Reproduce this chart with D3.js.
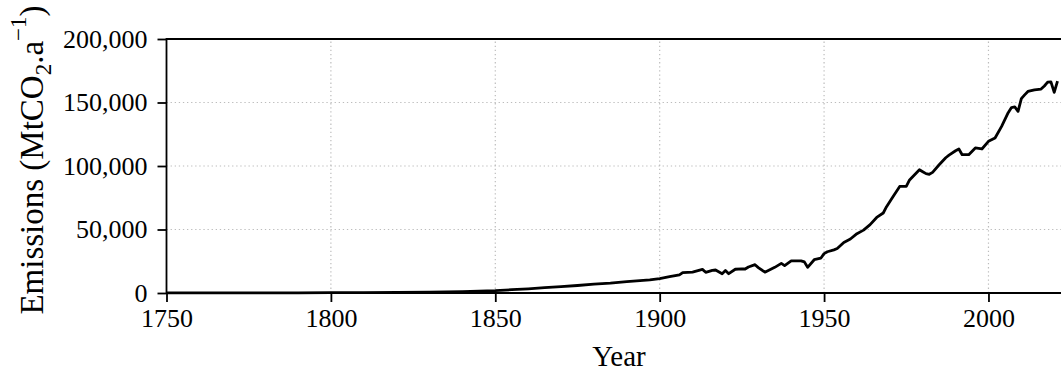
<!DOCTYPE html>
<html>
<head>
<meta charset="utf-8">
<script src="https://cdn.jsdelivr.net/npm/d3@7"></script>
<style>
  body { margin: 0; background: #fff; }
  svg { display: block; }
</style>
</head>
<body>
<div id="chart"></div>
<script>
// data (MtCO2 per year)
const years = [
  1750, 1760, 1770, 1780, 1790, 1800, 1810, 1820, 1830, 1840,
  1850, 1855, 1860, 1865, 1870, 1875, 1880, 1885, 1890, 1894,
  1897, 1900, 1903, 1906, 1907, 1910, 1913, 1914, 1916, 1917,
  1919, 1920, 1921, 1923, 1925, 1926, 1927, 1929, 1930, 1932,
  1935, 1937, 1938, 1940, 1943, 1944, 1945, 1947, 1949, 1950,
  1951, 1953, 1954, 1956, 1958, 1960, 1962, 1964, 1966, 1968,
  1969, 1971, 1973, 1974, 1975, 1976, 1979, 1980, 1981, 1982,
  1983, 1985, 1987, 1988, 1990, 1991, 1992, 1994, 1996, 1998,
  2000, 2002, 2004, 2006, 2007, 2008, 2009, 2010, 2011, 2012,
  2014, 2016, 2017, 2018, 2019, 2020, 2021
];
const emissions = [
  50, 60, 80, 110, 150, 220, 300, 420, 650, 1000,
  1800, 2600, 3300, 4200, 5000, 5900, 7000, 7800, 8900, 9700,
  10300, 11400, 12800, 14200, 16000, 16500, 18600, 16300, 17800, 18100,
  15200, 17700, 15200, 18700, 19000, 18900, 20500, 22300, 20000, 16400,
  20200, 23300, 21600, 25300, 25300, 24500, 20200, 26200, 27400, 31000,
  32500, 34000, 35000, 39800, 42500, 46700, 49500, 53800, 59500, 63000,
  68000, 76000, 83900, 84000, 84000, 89000, 97000, 95500, 94000, 93500,
  95000, 101000, 106500, 108500, 112000, 113400, 108900, 108900, 114200, 113400,
  119400, 122000, 131200, 142000, 146000, 146500, 143000, 153000, 156000, 158700,
  160000, 160600, 163000, 166000, 166300, 158000, 166800
];

const xTicks = [1750, 1800, 1850, 1900, 1950, 2000];
const yTicks = [0, 50000, 100000, 150000, 200000];

// layout
const width = 1061, height = 371;
const margin = { left: 166.5, right: 0, top: 39, bottom: 78 };
const font = "'Liberation Serif', 'Times New Roman', serif";

const svg = d3.select("#chart").append("svg")
  .attr("width", width)
  .attr("height", height);

const x = d3.scaleLinear()
  .domain([1750, 2022])
  .range([margin.left, 1060.8]);

const y = d3.scaleLinear()
  .domain([0, 200000])
  .range([height - margin.bottom, margin.top]);

// dotted grid
const grid = svg.append("g")
  .attr("stroke", "#bcbcbc")
  .attr("stroke-width", 1.2)
  .attr("stroke-dasharray", "1.3,2.8");

grid.selectAll(".vg")
  .data(xTicks.filter(d => d > 1750))
  .enter().append("line")
  .attr("x1", d => x(d)).attr("x2", d => x(d))
  .attr("y1", y(0)).attr("y2", y(200000));

grid.selectAll(".hg")
  .data(yTicks.filter(d => d > 0 && d < 200000))
  .enter().append("line")
  .attr("x1", x(1750)).attr("x2", width)
  .attr("y1", d => y(d)).attr("y2", d => y(d));

// axes
const xAxis = svg.append("g")
  .attr("transform", `translate(0,${y(0)})`)
  .call(d3.axisBottom(x).tickValues(xTicks).tickFormat(d3.format("d")).tickSize(9).tickPadding(7));

const yAxis = svg.append("g")
  .attr("transform", `translate(${x(1750)},0)`)
  .call(d3.axisLeft(y).tickValues(yTicks).tickFormat(d3.format(",")).tickSize(9).tickPadding(10));

[xAxis, yAxis].forEach(ax => {
  ax.select(".domain").remove();
  ax.selectAll(".tick line").attr("stroke", "#000").attr("stroke-width", 1.8);
  ax.selectAll(".tick text")
    .attr("fill", "#000")
    .style("font-family", font)
    .style("font-size", "26px");
});

// spines: left, bottom, top
const spines = svg.append("g")
  .attr("stroke", "#000")
  .attr("stroke-width", 1.8)
  .attr("fill", "none");
spines.append("path")
  .attr("d", `M${width},${y(200000)}H${x(1750)}V${y(0)}H${width}`);

// emissions line
const line = d3.line()
  .x((d, i) => x(years[i]))
  .y(d => y(d));

svg.append("path")
  .datum(emissions)
  .attr("fill", "none")
  .attr("stroke", "#000")
  .attr("stroke-width", 2.8)
  .attr("stroke-linejoin", "round")
  .attr("d", line);

// axis titles
svg.append("text")
  .attr("x", 619)
  .attr("y", 366)
  .attr("text-anchor", "middle")
  .style("font-family", font)
  .style("font-size", "29px")
  .text("Year");

const yLabel = svg.append("text")
  .attr("transform", `translate(43,160) rotate(-90)`)
  .attr("text-anchor", "middle")
  .style("font-family", font)
  .style("font-size", "33px");
yLabel.append("tspan").text("Emissions (MtCO");
yLabel.append("tspan").attr("dy", 8).style("font-size", "23px").text("2");
yLabel.append("tspan").attr("dy", -8).text(".a");
yLabel.append("tspan").attr("dy", -17).style("font-size", "23px").text("\u22121");
yLabel.append("tspan").attr("dy", 17).text(")");
</script>
</body>
</html>
